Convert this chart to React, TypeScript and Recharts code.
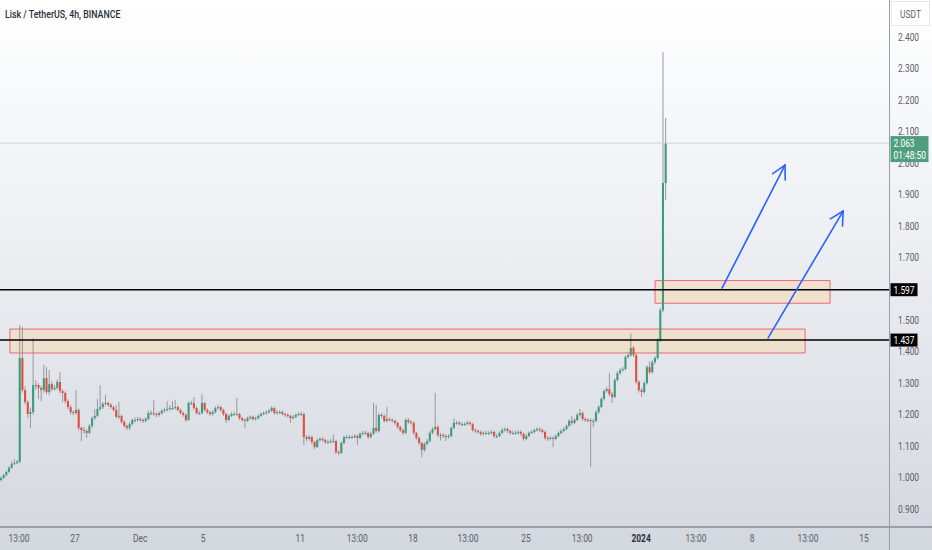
import React from "react";
import { ComposedChart, Bar, XAxis, YAxis, ReferenceLine, ReferenceArea } from "recharts";

// ---- data (LSK/USDT 4h) ----
const firstOpen = 0.992;
const closes = [
  0.999, 1.008, 1.018, 1.031, 1.043, 1.046, 1.050, 1.380, 1.278, 1.240,
  1.202, 1.208, 1.294, 1.294, 1.285, 1.278, 1.316, 1.272, 1.297, 1.281,
  1.285, 1.304, 1.275, 1.269, 1.243, 1.224, 1.208, 1.205, 1.215, 1.158,
  1.151, 1.148, 1.142, 1.164, 1.189, 1.196, 1.218, 1.224, 1.234, 1.237,
  1.231, 1.224, 1.215, 1.193, 1.196, 1.177, 1.164, 1.158, 1.170, 1.183,
  1.183, 1.186, 1.183, 1.180, 1.186, 1.205, 1.205, 1.202, 1.199, 1.205,
  1.212, 1.215, 1.218, 1.221, 1.221, 1.224, 1.215, 1.205, 1.199, 1.183,
  1.237, 1.237, 1.221, 1.205, 1.205, 1.237, 1.215, 1.208, 1.202, 1.208,
  1.221, 1.224, 1.215, 1.202, 1.183, 1.196, 1.202, 1.202, 1.202, 1.189,
  1.183, 1.180, 1.189, 1.193, 1.186, 1.189, 1.196, 1.202, 1.205, 1.208,
  1.212, 1.221, 1.205, 1.208, 1.208, 1.202, 1.199, 1.196, 1.189, 1.193,
  1.199, 1.202, 1.202, 1.129, 1.123, 1.129, 1.113, 1.097, 1.119, 1.123,
  1.119, 1.113, 1.113, 1.116, 1.116, 1.081, 1.078, 1.110, 1.129, 1.129,
  1.129, 1.129, 1.132, 1.126, 1.139, 1.142, 1.142, 1.129, 1.139, 1.158,
  1.148, 1.199, 1.196, 1.180, 1.186, 1.183, 1.180, 1.174, 1.161, 1.151,
  1.142, 1.183, 1.177, 1.174, 1.142, 1.126, 1.110, 1.088, 1.107, 1.116,
  1.142, 1.154, 1.161, 1.135, 1.135, 1.132, 1.129, 1.132, 1.158, 1.174,
  1.174, 1.170, 1.170, 1.170, 1.174, 1.170, 1.151, 1.148, 1.145, 1.139,
  1.142, 1.142, 1.142, 1.145, 1.132, 1.132, 1.142, 1.151, 1.154, 1.148,
  1.142, 1.142, 1.142, 1.145, 1.139, 1.123, 1.132, 1.142, 1.145, 1.151,
  1.154, 1.151, 1.145, 1.126, 1.123, 1.126, 1.123, 1.132, 1.142, 1.148,
  1.154, 1.164, 1.180, 1.174, 1.183, 1.199, 1.205, 1.186, 1.183, 1.183,
  1.180, 1.180, 1.208, 1.224, 1.250, 1.275, 1.281, 1.265, 1.256, 1.310,
  1.332, 1.342, 1.345, 1.383, 1.389, 1.412, 1.389, 1.304, 1.278, 1.272,
  1.300, 1.351, 1.335, 1.367, 1.380, 1.437, 1.532, 1.936, 2.063,
];
const highs = [
  1.004, 1.012, 1.022, 1.036, 1.052, 1.058, 1.056, 1.485, 1.479, 1.290,
  1.246, 1.222, 1.443, 1.310, 1.300, 1.292, 1.358, 1.351, 1.342, 1.306,
  1.295, 1.312, 1.335, 1.280, 1.274, 1.248, 1.230, 1.214, 1.278, 1.220,
  1.162, 1.160, 1.153, 1.170, 1.194, 1.218, 1.250, 1.294, 1.240, 1.262,
  1.241, 1.236, 1.229, 1.230, 1.240, 1.200, 1.182, 1.168, 1.176, 1.188,
  1.191, 1.193, 1.192, 1.188, 1.192, 1.212, 1.213, 1.246, 1.208, 1.210,
  1.218, 1.222, 1.243, 1.230, 1.243, 1.247, 1.229, 1.219, 1.210, 1.203,
  1.242, 1.244, 1.256, 1.226, 1.212, 1.265, 1.241, 1.220, 1.212, 1.214,
  1.227, 1.231, 1.228, 1.219, 1.206, 1.201, 1.208, 1.209, 1.253, 1.206,
  1.193, 1.188, 1.194, 1.198, 1.197, 1.194, 1.201, 1.207, 1.211, 1.214,
  1.218, 1.227, 1.225, 1.214, 1.215, 1.212, 1.206, 1.204, 1.200, 1.198,
  1.204, 1.208, 1.209, 1.206, 1.134, 1.135, 1.133, 1.117, 1.124, 1.129,
  1.128, 1.124, 1.120, 1.122, 1.137, 1.120, 1.086, 1.115, 1.134, 1.136,
  1.135, 1.135, 1.138, 1.137, 1.144, 1.148, 1.149, 1.146, 1.145, 1.237,
  1.231, 1.204, 1.205, 1.200, 1.224, 1.191, 1.188, 1.184, 1.178, 1.165,
  1.155, 1.188, 1.189, 1.182, 1.178, 1.146, 1.130, 1.114, 1.112, 1.122,
  1.148, 1.160, 1.269, 1.166, 1.142, 1.141, 1.138, 1.138, 1.163, 1.188,
  1.181, 1.179, 1.177, 1.176, 1.180, 1.179, 1.174, 1.156, 1.153, 1.150,
  1.147, 1.149, 1.148, 1.151, 1.149, 1.139, 1.147, 1.157, 1.160, 1.159,
  1.152, 1.149, 1.148, 1.151, 1.150, 1.143, 1.138, 1.147, 1.151, 1.156,
  1.160, 1.159, 1.156, 1.149, 1.131, 1.132, 1.131, 1.137, 1.147, 1.154,
  1.160, 1.169, 1.186, 1.196, 1.189, 1.205, 1.218, 1.210, 1.192, 1.189,
  1.188, 1.186, 1.214, 1.230, 1.256, 1.280, 1.287, 1.332, 1.272, 1.316,
  1.338, 1.348, 1.352, 1.389, 1.396, 1.459, 1.418, 1.394, 1.309, 1.284,
  1.306, 1.357, 1.370, 1.373, 1.386, 1.443, 1.540, 2.352, 2.143,
];
const lows = [
  0.988, 0.995, 1.004, 1.015, 1.028, 1.040, 1.042, 1.046, 1.270, 1.232,
  1.190, 1.158, 1.200, 1.280, 1.250, 1.243, 1.270, 1.265, 1.262, 1.275,
  1.276, 1.280, 1.268, 1.240, 1.236, 1.218, 1.200, 1.198, 1.200, 1.150,
  1.116, 1.140, 1.126, 1.138, 1.158, 1.184, 1.192, 1.212, 1.218, 1.228,
  1.225, 1.219, 1.210, 1.188, 1.186, 1.172, 1.158, 1.151, 1.152, 1.166,
  1.176, 1.178, 1.177, 1.174, 1.175, 1.182, 1.198, 1.196, 1.192, 1.194,
  1.200, 1.207, 1.210, 1.212, 1.214, 1.216, 1.210, 1.200, 1.193, 1.177,
  1.180, 1.230, 1.215, 1.200, 1.199, 1.200, 1.210, 1.202, 1.196, 1.197,
  1.204, 1.216, 1.209, 1.196, 1.174, 1.179, 1.192, 1.196, 1.196, 1.183,
  1.177, 1.158, 1.176, 1.184, 1.181, 1.181, 1.185, 1.192, 1.198, 1.200,
  1.203, 1.208, 1.200, 1.200, 1.202, 1.197, 1.193, 1.190, 1.174, 1.184,
  1.189, 1.195, 1.196, 1.104, 1.116, 1.118, 1.106, 1.091, 1.094, 1.114,
  1.113, 1.107, 1.107, 1.108, 1.110, 1.075, 1.072, 1.075, 1.106, 1.123,
  1.122, 1.123, 1.124, 1.104, 1.122, 1.134, 1.136, 1.123, 1.124, 1.135,
  1.142, 1.144, 1.190, 1.175, 1.176, 1.178, 1.175, 1.168, 1.155, 1.145,
  1.136, 1.138, 1.171, 1.168, 1.136, 1.120, 1.104, 1.065, 1.082, 1.102,
  1.112, 1.138, 1.150, 1.128, 1.118, 1.126, 1.116, 1.124, 1.128, 1.154,
  1.168, 1.165, 1.164, 1.164, 1.166, 1.165, 1.146, 1.142, 1.139, 1.133,
  1.134, 1.136, 1.135, 1.137, 1.126, 1.125, 1.128, 1.138, 1.146, 1.142,
  1.136, 1.136, 1.135, 1.137, 1.132, 1.117, 1.119, 1.128, 1.138, 1.140,
  1.146, 1.145, 1.140, 1.120, 1.116, 1.118, 1.097, 1.119, 1.128, 1.137,
  1.144, 1.150, 1.160, 1.168, 1.170, 1.179, 1.194, 1.180, 1.177, 1.176,
  1.034, 1.160, 1.176, 1.203, 1.220, 1.245, 1.270, 1.258, 1.237, 1.252,
  1.305, 1.327, 1.336, 1.340, 1.378, 1.384, 1.383, 1.297, 1.270, 1.256,
  1.266, 1.296, 1.329, 1.330, 1.360, 1.375, 1.430, 1.525, 1.882,
];

// x-axis labels (positions in candle-index units)
const xTickPos = [6.6, 27.5, 51.8, 75.3, 111.5, 132.8, 153.6, 174.1, 195.8, 216.7, 238.7, 259.2, 280.1, 301.0, 321.9];
const xTickLabels = ["13:00", "27", "Dec", "5", "11", "13:00", "18", "13:00", "25", "13:00", "2024", "13:00", "8", "13:00", "15"];
// price-scale labels that are visible in the reference (1.600 is hidden behind the 1.597 tag)
const yTicks = [0.9, 1.0, 1.1, 1.2, 1.3, 1.4, 1.5, 1.7, 1.8, 1.9, 2.0, 2.1, 2.2, 2.3, 2.4];

// annotations
const levels = [1.597, 1.437];
const zoneLow = { x1: 3.2, x2: 299.9, y1: 1.396, y2: 1.472 };
const zoneHigh = { x1: 243.9, x2: 309.2, y1: 1.554, y2: 1.626 };
const arrowA = [{ x: 268.9, y: 1.602 }, { x: 292.4, y: 1.993 }];
const arrowB = [{ x: 286.1, y: 1.444 }, { x: 314.1, y: 1.847 }];
const lastPrice = 2.063;
const countdown = "01:48:50";
const title = "Lisk / TetherUS, 4h, BINANCE";
const currency = "USDT";

const data = closes.map((c, i) => ({
  i,
  open: i === 0 ? firstOpen : closes[i - 1],
  close: c,
  high: highs[i],
  low: lows[i],
  range: [lows[i], highs[i]],
}));

const GREEN = "#3f9b7e";
const RED = "#e0503f";
const WICK = "#8d9097";
const BLUE = "#2962ff";
const TEXT = "#5b5e68";
const FONT = "Roboto, 'Liberation Sans', sans-serif";

const Candle = (props: any) => {
  let { x, y, width, height, payload } = props;
  if (!payload || height == null) return null;
  if (height < 0) {
    y = y + height;
    height = -height;
  }
  const { open, close, high, low } = payload;
  const cx = x + width / 2;
  const k = height / (high - low);
  const top = y + (high - Math.max(open, close)) * k;
  const bot = y + (high - Math.min(open, close)) * k;
  const color = close >= open ? GREEN : RED;
  return (
    <g>
      <line x1={cx} x2={cx} y1={y} y2={y + height} stroke={WICK} strokeWidth={0.9} />
      <rect x={cx - 1.05} y={top} width={2.1} height={Math.max(1, bot - top)} fill={color} />
    </g>
  );
};

const XTick = (props: any) => {
  const { x, y, index } = props;
  const label = xTickLabels[index];
  const bold = label === "2024";
  return (
    <g transform={`translate(${x},${y + 15}) scale(0.8,1)`}>
      <text
        x={0}
        y={0}
        textAnchor="middle"
        fontFamily={FONT}
        fontSize={10.5}
        fontWeight={bold ? 700 : 400}
        fill={bold ? "#2a2e39" : TEXT}
      >
        {label}
      </text>
    </g>
  );
};

// price-scale labels, drawn as labels of invisible reference lines so that the
// level / last-price tags drawn afterwards sit on top of them
const priceTickLabel = (value: number) => (props: any) => {
  const vb = props.viewBox || {};
  const lx = (vb.x || 0) + (vb.width || 0) + 9;
  const ly = (vb.y || 0) + (vb.height || 0) / 2;
  return (
    <g transform={`translate(${lx},${ly + 3.7}) scale(0.8,1)`}>
      <text x={0} y={0} textAnchor="start" fontFamily={FONT} fontSize={10.5} fill={TEXT}>
        {value.toFixed(3)}
      </text>
    </g>
  );
};

const levelLabel = (value: number) => (props: any) => {
  const vb = props.viewBox || {};
  const lx = (vb.x || 0) + (vb.width || 0) + 1.5;
  const ly = (vb.y || 0) + (vb.height || 0) / 2;
  return (
    <g>
      <rect x={lx} y={ly - 6.5} width={27} height={13} fill="#000000" />
      <g transform={`translate(${lx + 13.5},${ly + 3.8}) scale(0.8,1)`}>
        <text x={0} y={0} textAnchor="middle" fontFamily={FONT} fontSize={10.5} fill="#ffffff">
          {value.toFixed(3)}
        </text>
      </g>
    </g>
  );
};

const lastLabel = (props: any) => {
  const vb = props.viewBox || {};
  const lx = (vb.x || 0) + (vb.width || 0) + 1.5;
  const ly = (vb.y || 0) + (vb.height || 0) / 2;
  return (
    <g>
      <rect x={lx} y={ly - 7} width={38} height={26} fill="#4f9f7f" />
      <g transform={`translate(${lx + 3},${ly + 4}) scale(0.8,1)`}>
        <text x={0} y={0} fontFamily={FONT} fontSize={10.5} fill="#ffffff">
          {lastPrice.toFixed(3)}
        </text>
      </g>
      <g transform={`translate(${lx + 3},${ly + 15.5}) scale(0.8,1)`}>
        <text x={0} y={0} fontFamily={FONT} fontSize={10.5} fill="#ffffff">
          {countdown}
        </text>
      </g>
    </g>
  );
};

const Arrow = (props: any) => {
  const { x1, y1, x2, y2 } = props;
  if ([x1, y1, x2, y2].some((v) => v == null || isNaN(v))) return null;
  const dx = x2 - x1;
  const dy = y2 - y1;
  const len = Math.sqrt(dx * dx + dy * dy);
  const ux = dx / len;
  const uy = dy / len;
  const h = 15;
  const a = (28 * Math.PI) / 180;
  const rot = (ang: number) => ({
    x: x2 - h * (ux * Math.cos(ang) - uy * Math.sin(ang)),
    y: y2 - h * (ux * Math.sin(ang) + uy * Math.cos(ang)),
  });
  const p1 = rot(a);
  const p2 = rot(-a);
  return (
    <g stroke={BLUE} strokeWidth={1.6} fill="none" strokeLinecap="round">
      <line x1={x1} y1={y1} x2={x2} y2={y2} />
      <line x1={x2} y1={y2} x2={p1.x} y2={p1.y} />
      <line x1={x2} y1={y2} x2={p2.x} y2={p2.y} />
    </g>
  );
};

export default function App() {
  return (
    <div
      style={{
        position: "relative",
        width: 932,
        height: 550,
        overflow: "hidden",
        background: "linear-gradient(180deg, #ffffff 0%, #eceef2 45%, #d3d7de 100%)",
      }}
    >
      <style>{`body{margin:0;}`}</style>
      <ComposedChart width={932} height={550} data={data} margin={{ top: 0, right: 0, bottom: 0, left: 0 }}>
        <XAxis
          dataKey="i"
          type="number"
          domain={[-0.485, 331.2]}
          ticks={xTickPos}
          interval={0}
          height={23}
          axisLine={false}
          tickLine={false}
          tickSize={0}
          tickMargin={0}
          tick={<XTick />}
          allowDataOverflow
        />
        <YAxis
          orientation="right"
          type="number"
          width={43}
          domain={[0.843, 2.5176]}
          ticks={yTicks}
          interval={0}
          axisLine={false}
          tickLine={false}
          tick={false}
          allowDataOverflow
        />
        {yTicks.map((v) => (
          <ReferenceLine key={`t${v}`} y={v} stroke="none" label={priceTickLabel(v)} />
        ))}
        <ReferenceArea
          x1={zoneLow.x1}
          x2={zoneLow.x2}
          y1={zoneLow.y1}
          y2={zoneLow.y2}
          fill="#f3dcc0"
          fillOpacity={0.7}
          stroke="#ef4f68"
          strokeWidth={1}
          strokeOpacity={0.85}
        />
        <ReferenceArea
          x1={zoneHigh.x1}
          x2={zoneHigh.x2}
          y1={zoneHigh.y1}
          y2={zoneHigh.y2}
          fill="#f3dcc0"
          fillOpacity={0.7}
          stroke="#ef4f68"
          strokeWidth={1}
          strokeOpacity={0.85}
        />
        <Bar dataKey="range" barSize={2} shape={<Candle />} isAnimationActive={false} />
        <ReferenceLine y={lastPrice} stroke="#cdd0d6" strokeWidth={1} label={lastLabel} />
        {levels.map((v) => (
          <ReferenceLine key={v} y={v} stroke="#000000" strokeWidth={1.6} label={levelLabel(v)} />
        ))}
        <ReferenceLine segment={arrowA} shape={<Arrow />} />
        <ReferenceLine segment={arrowB} shape={<Arrow />} />
      </ComposedChart>
      {/* axis frame lines */}
      <div style={{ position: "absolute", left: 889, top: 0, width: 1, height: 550, background: "#9a9ea6" }} />
      <div style={{ position: "absolute", left: 0, top: 526, width: 932, height: 1.5, background: "#9a9ea6" }} />
      {/* title */}
      <svg style={{ position: "absolute", left: 0, top: 0 }} width={300} height={30}>
        <g transform="translate(5,18) scale(0.8,1)">
          <text x={0} y={0} fontFamily={FONT} fontSize={11} fontWeight={500} fill="#2a2e39">
            {title}
          </text>
        </g>
      </svg>
      {/* currency header */}
      <svg style={{ position: "absolute", left: 890, top: 0 }} width={42} height={30}>
        <rect x={1.5} y={1.5} width={38} height={24} fill="#ffffff" stroke="#e6e8ee" />
        <g transform="translate(20.5,17.5) scale(0.8,1)">
          <text x={0} y={0} textAnchor="middle" fontFamily={FONT} fontSize={10.5} fill={TEXT}>
            {currency}
          </text>
        </g>
      </svg>
    </div>
  );
}
